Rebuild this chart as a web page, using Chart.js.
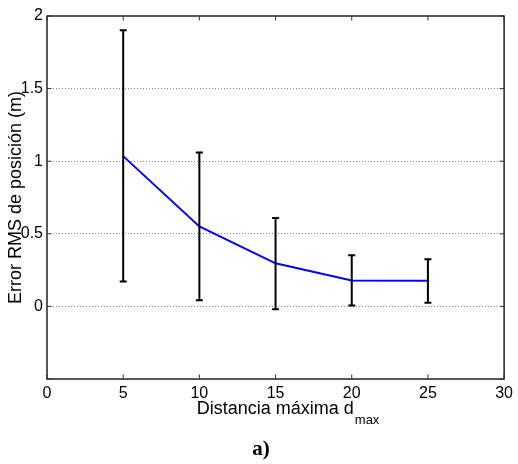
<!DOCTYPE html>
<html>
<head>
<meta charset="utf-8">
<script src="https://cdn.jsdelivr.net/npm/chart.js@4/dist/chart.umd.min.js"></script>
<style>
html,body{margin:0;padding:0;background:#fff;}
#wrap{width:518px;height:464px;position:relative;}
</style>
</head>
<body>
<div id="wrap"><canvas id="c" width="518" height="464"></canvas></div>
<script>
// Data
const distances = [5, 10, 15, 20, 25];
const rmsError = [1.035, 0.551, 0.297, 0.178, 0.176];
const errUpper = [1.902, 1.060, 0.609, 0.352, 0.325];
const errLower = [0.172, 0.043, -0.020, 0.007, 0.025];
const xTicks = [0, 5, 10, 15, 20, 25, 30];
const yTicks = [0, 0.5, 1, 1.5, 2];

const yTitle = 'Error RMS de posición (m)';
const xTitle = 'Distancia máxima d';
const xTitleSub = 'max';
const panelLabel = 'a)';

const FONT = '"Liberation Sans", Arial, Helvetica, sans-serif';

const decorPlugin = {
  id: 'decor',
  afterDatasetsDraw(chart) {
    const ctx = chart.ctx;
    const xs = chart.scales.x, ys = chart.scales.y;
    const a = chart.chartArea;
    ctx.save();
    // error bars
    ctx.strokeStyle = '#000';
    ctx.lineWidth = 2;
    const cap = 3.5;
    distances.forEach((d, i) => {
      const px = xs.getPixelForValue(d);
      const pt = ys.getPixelForValue(errUpper[i]);
      const pb = ys.getPixelForValue(errLower[i]);
      ctx.beginPath();
      ctx.moveTo(px, pt); ctx.lineTo(px, pb);
      ctx.moveTo(px - cap, pt); ctx.lineTo(px + cap, pt);
      ctx.moveTo(px - cap, pb); ctx.lineTo(px + cap, pb);
      ctx.stroke();
    });
    // frame
    ctx.lineWidth = 1.3;
    ctx.strokeStyle = '#000';
    ctx.strokeRect(a.left, a.top, a.right - a.left, a.bottom - a.top);
    // inner tick marks
    const tl = 4.5;
    ctx.lineWidth = 1;
    ctx.strokeStyle = '#333';
    ctx.beginPath();
    xTicks.forEach(v => {
      const px = xs.getPixelForValue(v);
      ctx.moveTo(px, a.bottom); ctx.lineTo(px, a.bottom - tl);
      ctx.moveTo(px, a.top); ctx.lineTo(px, a.top + tl);
    });
    ys.ticks.forEach(t => {
      const py = ys.getPixelForValue(t.value);
      ctx.moveTo(a.left, py); ctx.lineTo(a.left + tl, py);
      ctx.moveTo(a.right, py); ctx.lineTo(a.right - tl, py);
    });
    ctx.stroke();

    // axis titles
    ctx.fillStyle = '#000';
    ctx.font = '18px ' + FONT;
    ctx.textBaseline = 'alphabetic';
    // y title (rotated)
    ctx.save();
    ctx.translate(21, (a.top + a.bottom) / 2);
    ctx.rotate(-Math.PI / 2);
    ctx.textAlign = 'center';
    ctx.fillText(yTitle, 0, 0);
    ctx.restore();
    // x title with subscript
    ctx.font = '18px ' + FONT;
    const w1 = ctx.measureText(xTitle).width;
    ctx.font = '13px ' + FONT;
    const w2 = ctx.measureText(xTitleSub).width;
    const total = w1 + w2;
    const cx = (a.left + a.right) / 2 + 12;
    const x0 = cx - total / 2;
    const base = a.bottom + 35;
    ctx.textAlign = 'left';
    ctx.font = '18px ' + FONT;
    ctx.fillText(xTitle, x0, base);
    ctx.font = '13px ' + FONT;
    ctx.fillText(xTitleSub, x0 + w1 + 1, base + 10);
    // panel label
    ctx.font = 'bold 21px "Liberation Serif", "Times New Roman", serif';
    ctx.textAlign = 'center';
    ctx.fillText(panelLabel, 261, 455);
    ctx.restore();
  }
};

new Chart(document.getElementById('c'), {
  type: 'line',
  data: {
    datasets: [{
      data: distances.map((d, i) => ({x: d, y: rmsError[i]})),
      borderColor: '#0000ff',
      borderWidth: 2,
      pointRadius: 0,
      fill: false,
      tension: 0
    }]
  },
  options: {
    responsive: false,
    animation: false,
    devicePixelRatio: 1,
    layout: {padding: {left: 0, top: 16, right: 10, bottom: 0}},
    plugins: {legend: {display: false}, tooltip: {enabled: false}},
    scales: {
      x: {
        type: 'linear', min: 0, max: 30,
        afterBuildTicks: s => { s.ticks = xTicks.map(v => ({value: v})); },
        afterFit: s => { s.height = 85; },
        grid: {display: false, drawTicks: false},
        border: {display: false},
        ticks: {color: '#000', font: {family: FONT, size: 16}, padding: 5, maxRotation: 0,
          callback: v => String(v)}
      },
      y: {
        type: 'linear', min: -0.5, max: 2,
        afterBuildTicks: s => { s.ticks = [-0.5].concat(yTicks).map(v => ({value: v})); },
        afterFit: s => { s.width = 47; },
        grid: {
          drawTicks: false,
          color: ctx => (ctx.tick && (ctx.tick.value === -0.5 || ctx.tick.value === 2)) ? 'rgba(0,0,0,0)' : '#8c8c8c',
          lineWidth: 1
        },
        border: {display: false, dash: [1, 2]},
        ticks: {color: '#000', font: {family: FONT, size: 16}, padding: 4,
          callback: v => (v === -0.5 ? '' : String(v))}
      }
    }
  },
  plugins: [decorPlugin]
});
</script>
</body>
</html>
